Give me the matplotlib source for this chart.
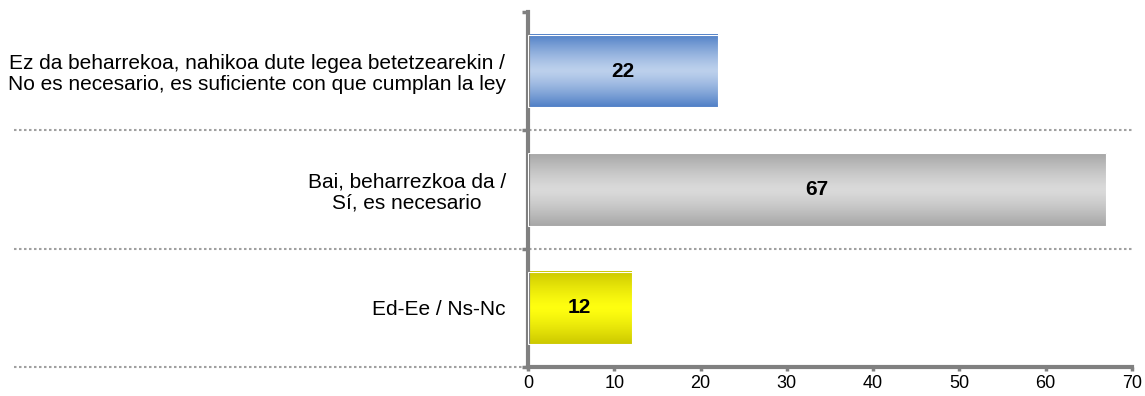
import numpy as np
import matplotlib
matplotlib.use("Agg")
import matplotlib.pyplot as plt
from matplotlib.colors import LinearSegmentedColormap

plt.rcParams['font.family'] = ['Liberation Sans', 'DejaVu Sans']

categories = [
    "Ez da beharrekoa, nahikoa dute legea betetzearekin /\nNo es necesario, es suficiente con que cumplan la ley",
    "Bai, beharrezkoa da /\nSí, es necesario",
    "Ed-Ee / Ns-Nc",
]
values = [22, 67, 12]
x_ticks = [0, 10, 20, 30, 40, 50, 60, 70]

# edge colour, centre colour for each bar's vertical gradient
bar_gradients = [
    ("#4F7FC6", "#BCD0EC"),
    ("#A6A6A6", "#DADADA"),
    ("#CCC800", "#FFFF10"),
]

fig = plt.figure(figsize=(11.45, 3.96), dpi=100)
ax = fig.add_axes([528 / 1145, 1 - 367 / 396, 604 / 1145, 355 / 396])

y = np.arange(len(categories))
bar_h = 0.61
bars = ax.barh(y, values, height=bar_h, color="none", edgecolor="none")

ramp = np.abs(np.linspace(-1, 1, 256)) ** 1.3
ramp = ramp.reshape(-1, 1)
for b, (edge, centre) in zip(bars, bar_gradients):
    cmap = LinearSegmentedColormap.from_list("g", [centre, edge])
    x0, yb = b.get_x(), b.get_y()
    w, h = b.get_width(), b.get_height()
    ax.imshow(ramp, cmap=cmap, aspect="auto", interpolation="bicubic",
              extent=(x0, x0 + w, yb + h, yb), zorder=2)
    ax.add_patch(plt.Rectangle((x0, yb), w, h, fill=False,
                               edgecolor="white", lw=0.8, zorder=3))
    ax.text(x0 + w / 2, yb + h / 2, f"{w:g}", ha="center", va="center",
            fontsize=15, fontweight="bold", color="black", zorder=4)

ax.set_xlim(0, 70)
ax.set_ylim(len(categories) - 0.5, -0.5)
ax.set_xticks(x_ticks)
ax.set_xticklabels([str(t) for t in x_ticks], fontsize=13)
ax.set_yticks(y)
ax.set_yticklabels(categories, fontsize=15, ha="right",
                   multialignment="center", linespacing=1.12)
ax.tick_params(axis="y", length=0, pad=16)
ax.set_yticks(np.arange(len(categories) + 1) - 0.5, minor=True)
ax.tick_params(axis="y", which="minor", length=4, width=2.5, color="#808080")
ax.tick_params(axis="x", length=3, width=2.5, color="#808080", pad=3)

for s in ("top", "right"):
    ax.spines[s].set_visible(False)
for s in ("left", "bottom"):
    ax.spines[s].set_color("#808080")
    ax.spines[s].set_linewidth(3)

# dotted separators between categories
for k in range(1, len(categories)):
    ax.plot([-0.851 * 70, 1.0 * 70], [k - 0.5, k - 0.5], ls=(0, (1.2, 1.2)),
            color="#A0A0A0", lw=1.5, clip_on=False, zorder=1)
ax.plot([-0.851 * 70, 0], [len(categories) - 0.5] * 2, ls=(0, (1.2, 1.2)),
        color="#A0A0A0", lw=1.5, clip_on=False, zorder=1)

fig.savefig("out.png", dpi=100)
